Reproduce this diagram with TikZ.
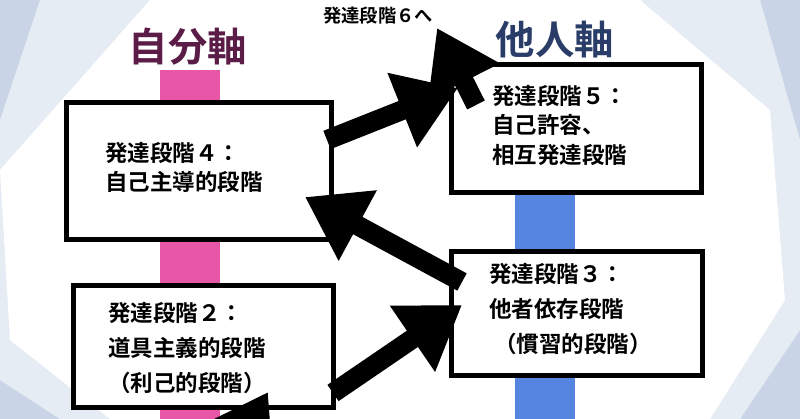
\documentclass[tikz,border=0pt]{standalone}
\usepackage{fontspec}
\newfontfamily\jp{Noto Sans CJK JP}[BoldFont={* Bold}]
\usetikzlibrary{arrows.meta}
\definecolor{bgblue}{HTML}{C9D4E6}
\definecolor{bglight}{HTML}{E6ECF4}
\definecolor{pinkbar}{HTML}{E856A8}
\definecolor{bluebar}{HTML}{5585E0}
\definecolor{ttlpink}{HTML}{5C1C48}
\definecolor{ttlblue}{HTML}{2A3D68}
\tikzset{
  stagebox/.style={draw=black,line width=3.5pt,fill=white},
  stagetxt/.style={anchor=north west,align=left,font=\jp\bfseries\fontsize{16}{21}\selectfont,inner sep=0pt},
  wide/.style={font=\jp\bfseries\fontsize{16}{25}\selectfont},
  bigarrow/.style={line width=14pt,-{Triangle[length=1.5cm,width=1.9cm]}},
  axistitle/.style={font=\jp\bfseries\fontsize{28}{30}\selectfont}
}
\begin{document}
\begin{tikzpicture}[x=0.025cm,y=-0.025cm]
\clip (0,0) rectangle (800,419);
\fill[bgblue] (0,0) rectangle (800,419);
\fill[bglight] (40,0) -- (760,0) -- (800,140) -- (800,330) -- (740,419) -- (60,419) -- (0,380) -- (0,120) -- cycle;
\fill[white] (150,0) -- (640,0) -- (770,110) -- (785,300) -- (710,419) -- (110,419) -- (10,340) -- (0,170) -- cycle;
% axis bars
\fill[pinkbar] (160,70) rectangle (220,419);
\fill[bluebar] (515,85) rectangle (575,419);
\node[axistitle,text=ttlpink] (t1) at (188,47) {自分軸};
\node[axistitle,text=ttlblue] (t2) at (555,40) {他人軸};
\node[font=\jp\bfseries\fontsize{13}{14}\selectfont] (t6) at (378,16) {発達段階６へ};
% boxes
\node[stagebox,minimum width=265*0.025cm,minimum height=137*0.025cm,anchor=north west] (b4) at (64,100) {};
\node[stagebox,minimum width=250*0.025cm,minimum height=128*0.025cm,anchor=north west] (b5) at (449,62) {};
\node[stagebox,minimum width=251*0.025cm,minimum height=124*0.025cm,anchor=north west] (b3) at (449,249) {};
\node[stagebox,minimum width=260*0.025cm,minimum height=122*0.025cm,anchor=north west] (b2) at (71,283) {};
\node[stagetxt] (l4) at (105,142) {発達段階４：\\自己主導的段階};
\node[stagetxt] (l5) at (492,85) {発達段階５：\\自己許容、\\相互発達段階};
\node[stagetxt,wide] (l3) at (489,263) {発達段階３：\\他者依存段階\\\ （慣習的段階）};
\node[stagetxt,wide] (l2) at (108,302) {発達段階２：\\道具主義的段階\\（利己的段階）};
% arrows
\coordinate (a1s) at (333,393); \coordinate (a1e) at (462,305);
\coordinate (a2s) at (462,282); \coordinate (a2e) at (305,197);
\coordinate (a3s) at (327,140); \coordinate (a3e) at (458,88);
\coordinate (a4s) at (476,105); \coordinate (a4e) at (437,28);
\coordinate (a5s) at (235,450); \coordinate (a5e) at (268,392);
\draw[bigarrow] (a1s) -- (a1e);
\draw[bigarrow] (a2s) -- (a2e);
\draw[bigarrow] (a3s) -- (a3e);
\draw[bigarrow] (a4s) -- (a4e);
\draw[bigarrow] (a5s) -- (a5e);
\end{tikzpicture}
\end{document}
